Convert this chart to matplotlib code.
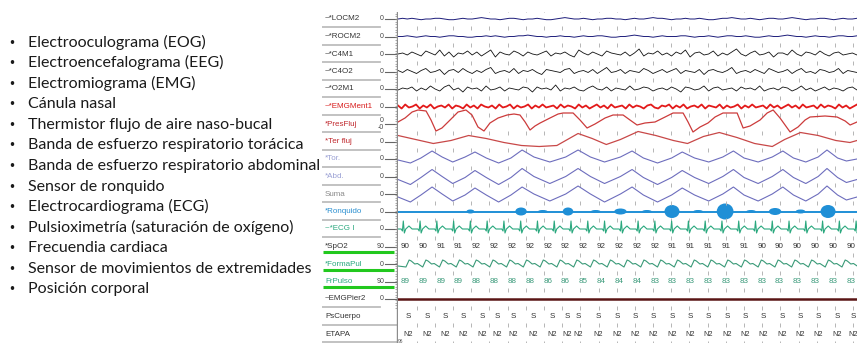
import numpy as np
import matplotlib.pyplot as plt
from matplotlib.patches import Ellipse

# texto de la izquierda
sensores = [
    "Electrooculograma (EOG)",
    "Electroencefalograma (EEG)",
    "Electromiograma (EMG)",
    "Cánula nasal",
    "Thermistor flujo de aire naso-bucal",
    "Banda de esfuerzo respiratorio torácica",
    "Banda de esfuerzo respiratorio abdominal",
    "Sensor de ronquido",
    "Electrocardiograma (ECG)",
    "Pulsioximetría (saturación de oxígeno)",
    "Frecuendia cardiaca",
    "Sensor de movimientos de extremidades",
    "Posición corporal",
]

# canales del polisomnograma
canales = ["~*LOCM2", "~*ROCM2", "~*C4M1", "~*C4O2", "~*O2M1", "~*EMGMent1",
           "*PresFluj", "*Ter fluj", "*Tor.", "*Abd.", "Suma", "*Ronquido",
           "~*ECG I", "*SpO2", "*FormaPul", "FrPulso", "~EMGPier2",
           "PsCuerpo", "ETAPA"]
canal_color = ["#333333", "#333333", "#333333", "#333333", "#333333", "#d81c1c",
               "#c0282d", "#c0282d", "#9aa0d4", "#9aa0d4", "#8a8a8a", "#2a8fd0",
               "#2aa87e", "#333333", "#2aa87e", "#2aa87e", "#333333",
               "#333333", "#333333"]
canal_cero = ["0", "0", "0", "0", "0", "0", "0", "0", "0", "0", "0", "0",
              "0", "90", "0", "90", "0", "", ""]

# señales (unidades ~ px de la captura, + hacia arriba)
locm2 = [0, 1, 0, 1, 0, -1, 0, 0, 1, 1, 0, -1, -1, 0, 1, 0, 0, 1, 2, 1, 0, 0, -1, 0, 1, 1,
         0, -1, 0, 0, 1, 0, -1, -1, 0, 1, 2, 1, 0, 0, 1, 0, -1, 0, 0, 1, 1, 0, 0, -1, 0, 1,
         0, 0, 1, 2, 1, 1, 0, -1, 0, 0, 1, 0, 0, 1, 0, -1, -1, 0, 1, 1, 2, 1, 0, 0, 1, 0,
         -1, 0, 1, 1, 0, 0, 1, 2, 1, 0, -1, 0, 0, 1, 1, 0, -1, 0, 1, 0, 0, 1]
rocm2 = [0, 0, 1, 0, -1, 0, 1, 0, 0, -1, 0, 1, 1, 0, 0, -1, -1, 0, 0, 1, 0, 1, 0, -1, 0, 0,
         1, 1, 2, 1, 0, 0, -1, 0, 0, 1, 0, 0, -1, 0, 1, 0, 0, 1, 1, 0, -1, -1, 0, 0, 1, 2,
         1, 0, 0, -1, 0, 1, 0, 0, 0, 1, 1, 0, -1, 0, 0, 1, 0, -1, 0, 1, 1, 0, 0, 1, 0, -1,
         -1, 0, 1, 0, 0, 1, 2, 1, 0, 0, -1, 0, 1, 0, 0, -1, 0, 1, 1, 0, 0, 1]
c4m1 = [0, 1, -1, 2, 0, -2, 3, 1, -1, 4, -2, 2, -3, 1, 0, 3, -1, 2, -2, 1, 4, -3, 2, 0, -1,
        3, 1, -2, 2, 0, -1, 1, 3, -2, 1, 0, 2, -1, -3, 4, 1, -1, 2, 0, -2, 3, 1, 0, -1, 2,
        -2, 1, 5, -2, 1, 0, 3, -1, 1, -2, 2, 0, 4, -3, 1, 2, -1, 0, 3, -2, 1, -1, 2, 5, 0,
        -2, 1, 3, -1, 0, 2, -3, 1, 1, -1, 4, 0, -2, 2, 1, -1, 3, 0, -2, 1, 2, -1, 0, 1, -1]
c4o2 = [1, -1, 2, 0, -2, 1, 3, -1, 0, 2, -3, 1, 2, -1, 3, 0, -2, 1, -1, 2, 4, -2, 0, 1, -1,
        3, -2, 1, 0, 2, -1, -3, 2, 1, 0, -1, 2, 3, -2, 0, 1, -1, 2, -2, 1, 4, -1, 0, 2, -2,
        1, 0, -1, 3, 1, -2, 0, 2, -1, 1, 3, -2, 1, 0, -1, 2, -3, 1, 2, 0, -1, 1, 4, -2, 0,
        1, -1, 2, 0, -2, 3, 1, -1, 0, 2, -2, 1, 3, -1, 0, -2, 2, 1, -1, 0, 3, -2, 1, 0, -1]
o2m1 = [-1, 1, 0, 2, -2, 1, -1, 3, 0, -2, 2, 4, -1, 1, -3, 2, 0, 1, -2, 3, -1, 0, 2, -2, 1,
        0, -1, 2, 1, -3, 2, 0, 1, -1, 4, -2, 1, 0, 2, -1, -2, 1, 3, 0, -1, 2, -2, 1, 0, -1,
        3, -1, 0, 2, 1, -2, 0, 1, -1, 2, 0, -3, 2, 1, -1, 0, 3, -2, 1, 2, -1, 0, 1, -2, 2,
        0, 1, -1, 3, -2, 0, 1, -1, 2, 1, -2, 0, 3, -1, 1, -2, 0, 2, -1, 1, 0, -2, 1, 2, -1]
emg_ment = [1, -2, 2, -1, 0, 2, -2, 1, -1, 2, -2, 0, 1, -1, 2, -2, 1, 0, -2, 2, -1, 1, -2, 2,
            0, -1, 1, -2, 2, -1, 0, 2, -2, 1, -1, 0, 2, -2, 1, -1, 2, -1, 0, 1, -2, 2, -1, 1,
            0, -2, 2, -1, 1, -2, 0, 2, -1, 1, -2, 2, -1, 0, 1, -2, 2, -1, 1, 0, -2, 1, 2, -1,
            -2, 1, 0, 2, -2, 1, -1, 2, -2, 0, 1, -1, 2, -2, 1, 0, -1, 2, -2, 1, -1, 0, 2, -2,
            1, -1, 2, -1, 0, 1, -2, 2, -1, 1, -2, 0, 2, -1, 1, -2, 2, -1, 0, 1, -2, 2, -1, 1,
            0, -2, 2, -1, 1, -2, 0, 2]

# respiratorias: tiempos (s) y amplitud
pres_t = [0, 0.4, 0.8, 1.13, 1.59, 1.87, 2.15, 2.49, 2.95, 3.4, 3.85, 4.19, 4.53, 4.87, 5.21,
          5.67, 6.18, 6.57, 6.91, 7.2, 7.48, 7.76, 8.05, 8.61, 9.07, 9.35, 9.92, 10.31, 10.71,
          11.16, 11.73, 12.18, 12.75, 13.14, 13.54, 13.99, 14.56, 15.13, 15.58, 16.15, 16.43,
          16.71, 17.11, 17.56, 17.96, 18.41, 19.21, 19.55, 19.94, 20.51, 20.91, 21.25, 21.64,
          22.21, 22.66, 23.06, 23.34, 24.19, 24.87, 25.33, 25.61, 26]
pres_v = [2, 6, 12, 14, 13, 4, -7, -4, 4, 12, 14, 9, -3, -7, 1, 6, 9, 10, 9, 2, -6, -2, 1, 6,
          10, 11, 11, 4, -4, 0, 6, 9, 9, 4, -1, 1, 2, 7, 11, 11, 2, -8, -3, 1, 7, 11, 11, -4,
          -2, 4, 11, 14, 6, -8, -3, 4, 7, 8, 7, 3, -1, 2]
ter_t = [0, 1.0, 2.0, 3.0, 4.0, 5.0, 6.0, 7.0, 8.0, 9.0, 10.2, 11.0, 11.8, 12.6, 13.6, 14.6,
         15.6, 16.4, 17.3, 18.2, 19.2, 20.2, 21.2, 21.9, 22.8, 23.8, 24.8, 25.6, 26]
ter_v = [6, 2, -2, 1, 6, 3, -1, -4, -5, -4, 8, 3, -3, 2, 10, 6, 1, -2, 5, 9, 4, -2, -5, 2,
         9, 6, 1, -1, 1]
resp_t = [0, 0.7, 1.3, 1.93, 2.5, 3.1, 3.8, 4.36, 5.0, 5.7, 6.4, 7.03, 7.7, 8.6, 9.5, 10.2,
          10.9, 11.7, 12.6, 13.26, 13.9, 14.7, 15.5, 16.1, 16.8, 17.6, 18.4, 19.0, 19.6, 20.4,
          21.2, 21.8, 22.4, 23.1, 23.8, 24.3, 24.9, 25.4, 26]
tor_v = [-1, -4, 1, 8, 2, -3, 2, 7, 1, -4, 1, 9, 2, -3, 2, 9, 2, -3, 2, 8, 1, -4, 1, 7, 1,
         -3, 2, 8, 1, -3, 2, 8, 1, -3, 2, 9, 1, -2, 0]
abd_v = [-3, -8, -1, 7, 0, -7, -1, 6, -1, -8, -1, 8, 0, -7, 0, 8, 0, -7, 0, 7, -1, -8, -1,
         6, -1, -7, 0, 7, -1, -7, 0, 7, -1, -7, 0, 8, -1, -6, -3]
suma_v = [-3, -8, -1, 7, 0, -7, -1, 6, -1, -8, -1, 7, 0, -7, 0, 8, 0, -8, 0, 7, -1, -8, -1,
          6, -1, -7, 0, 7, -1, -7, 0, 7, -1, -7, 0, 8, -1, -6, -3]

# ronquido: episodios (centro s, semialtura, ancho s)
ronq_t = [4.1, 6.97, 8.2, 9.63, 11.2, 12.6, 14.1, 15.52, 17.0, 18.53, 20.0, 21.36, 22.8, 24.36]
ronq_h = [2, 4, 1.5, 4, 1.5, 3, 1.5, 6.5, 1.5, 8, 1.5, 3.5, 2, 6.5]
ronq_w = [0.45, 0.65, 0.55, 0.6, 0.55, 0.7, 0.55, 0.85, 0.55, 0.95, 0.55, 0.7, 0.55, 0.85]

# latidos (s), forma del ECG y del pulso
latidos = [0.3, 1.25, 2.2, 3.15, 4.1, 5.05, 6.0, 6.95, 7.9, 8.85, 9.8, 10.75, 11.7, 12.65,
           13.6, 14.55, 15.5, 16.45, 17.4, 18.35, 19.3, 20.25, 21.2, 22.15, 23.1, 24.05, 25.0,
           25.95]
ecg_dt = [-0.12, -0.05, 0.0, 0.06, 0.14, 0.32, 0.5]
ecg_v = [0, -2, 8, -4, 0, 3, 0]
pul_dt = [0.15, 0.33, 0.45, 0.65, 0.8, 1.05]
pul_v = [-3, 4, 3, 0, 0.5, -2.5]

# valores numericos por segundo
spo2 = [90, 90, 91, 91, 92, 92, 92, 92, 92, 92, 92, 92, 92, 92, 92, 91, 91, 91, 91, 91,
        90, 90, 90, 90, 90, 90]
frpulso = [89, 89, 89, 89, 88, 88, 88, 88, 86, 86, 85, 84, 84, 84, 83, 83, 83, 83, 83, 83,
           83, 83, 83, 83, 83, 83]
epoca_t = [0.57, 1.64, 2.66, 3.68, 4.76, 5.61, 6.52, 7.65, 8.73, 9.6, 10.2, 11.33, 12.41,
           13.43, 14.45, 15.52, 16.54, 17.56, 18.64, 19.66, 20.68, 21.76, 22.78, 23.8, 24.87,
           25.78]
cuerpo = ["S"] * len(epoca_t)
etapa = ["N2"] * len(epoca_t)

ROW = 17.5  # px por canal
W, H = 857, 343

fig = plt.figure(figsize=(W / 100, H / 100), dpi=100)
fig.patch.set_facecolor("white")

# ---- lista con viñetas
txt = fig.text(28 / W, 1 - 46.7 / H, sensores[6], family="Lato", size=10, color="#1a1a1a")
w = txt.get_window_extent(fig.canvas.get_renderer()).width
fs = 10 * 294 / w
txt.remove()
for i, s in enumerate(sensores):
    yb = 1 - (46.7 + 20.55 * i) / H
    fig.text(11.5 / W, yb, "•", family="DejaVu Sans", size=fs * 0.75, color="#1a1a1a",
             ha="center", va="baseline")
    fig.text(28 / W, yb, s, family="Lato", size=fs, color="#1a1a1a", va="baseline")

# ---- columna de etiquetas
top = 12
ylo, yhi = (H - 19) / ROW, -(19 - top) / ROW
n = len(canales)
lab = fig.add_axes([322 / W, 0, 76 / W, (H - top) / H])
lab.set_xlim(0, 76)
lab.set_ylim(ylo, yhi)
lab.axis("off")
for i, (c, col, z) in enumerate(zip(canales, canal_color, canal_cero)):
    lab.text(3, i, c, family="Liberation Sans", size=5.8, color=col, va="center")
    if z:
        if c == "*PresFluj":
            lab.text(62, i - 0.18, "0", family="Liberation Sans", size=5, color="#444",
                     ha="right", va="center")
            lab.text(62, i + 0.18, "-0", family="Liberation Sans", size=5, color="#444",
                     ha="right", va="center")
        else:
            lab.text(62, i, z, family="Liberation Sans", size=5, color="#444",
                     ha="right", va="center")
        lab.plot([63, 75], [i, i], color="#666", lw=0.8)
    if c in ("*SpO2", "*FormaPul", "FrPulso"):
        lab.plot([1, 72], [i + 0.33, i + 0.33], color="#22c81e", lw=2.2, solid_capstyle="butt")
    else:
        x1 = 75 if not z else 58
        lab.plot([0, x1], [i + 0.47, i + 0.47], color="#bdbdbd", lw=1.3)
# regla de escala
marcas = np.arange(yhi + 0.1, 16.5, 0.15)
lab.hlines(marcas, 72.5, 75, color="#8c8c8c", lw=0.5)
lab.plot([75, 75], [yhi, ylo], color="#8c8c8c", lw=1.0)

# ---- trazados
ax = fig.add_axes([398 / W, 0, (W - 398) / W, (H - top) / H])
ax.set_xlim(0, 26)
ax.set_ylim(ylo, yhi)
ax.axis("off")

# rejilla punteada
rej_t = np.arange(1.06, 26, 1.03)
for i in range(-1, n):
    ax.plot(rej_t, np.full(len(rej_t), i + 0.5), ls="none", marker="|", ms=2.5,
            mew=0.7, color="#b5b5b5")


def traza(fila, t, v, color, lw=0.8, escala=1.0):
    ax.plot(t, fila - escala * np.asarray(v) / ROW, color=color, lw=lw,
            solid_joinstyle="round")


def muestras(v):
    return np.linspace(0, 26, len(v))


traza(0, muestras(locm2), locm2, "#1c1c7a", 0.7, 0.7)
traza(1, muestras(rocm2), rocm2, "#1c1c7a", 0.7, 0.7)
traza(2, muestras(c4m1), c4m1, "#111111", 0.6)
traza(3, muestras(c4o2), c4o2, "#111111", 0.6)
traza(4, muestras(o2m1), o2m1, "#111111", 0.6)
traza(5, muestras(emg_ment), emg_ment, "#e31a1a", 1.3)
traza(6, pres_t, pres_v, "#cc3b3b", 0.9)
traza(7, ter_t, ter_v, "#c84848", 0.9)
traza(8, resp_t, tor_v, "#6d6dbd", 0.8)
traza(9, resp_t, abd_v, "#6d6dbd", 0.8)
traza(10, resp_t, suma_v, "#6d6dbd", 0.8)

# ronquido
ax.plot([0, 26], [11, 11], color="#1f8fd6", lw=1.4)
for t, h, w in zip(ronq_t, ronq_h, ronq_w):
    ax.add_patch(Ellipse((t, 11), w, 2 * h / ROW, color="#1f8fd6", lw=0))

# ECG y pulso
ecg_x, ecg_y, pul_x, pul_y = [0], [0], [0], [-2]
for b in latidos:
    ecg_x += [b + d for d in ecg_dt]
    ecg_y += ecg_v
    pul_x += [b + d for d in pul_dt]
    pul_y += pul_v
traza(12, ecg_x, ecg_y, "#2aa87e", 0.8)
traza(14, pul_x, pul_y, "#3a9a78", 0.8)

# valores numericos
seg = np.arange(len(spo2)) * 1.01 + 0.4
for t, a, b in zip(seg, spo2, frpulso):
    ax.text(t, 13, str(a), family="Liberation Sans", size=5.8, color="#333333",
            ha="center", va="center", clip_on=True)
    ax.text(t, 15, str(b), family="Liberation Sans", size=5.8, color="#3a9a7a",
            ha="center", va="center", clip_on=True)

# EMG piernas
ax.plot([0, 26], [16, 16], color="#5a1515", lw=1.8)

for t, a, b in zip(epoca_t, cuerpo, etapa):
    ax.text(t, 17, a, family="Liberation Sans", size=5.8, color="#333333",
            ha="center", va="center", clip_on=True)
    ax.text(t, 18.05, b, family="Liberation Sans", size=5.3, color="#333333",
            ha="center", va="center", clip_on=True)
ax.text(0.0, 18.45, "96", family="Liberation Sans", size=3.5, color="#555", va="center")

fig.savefig("out.png", dpi=100)
